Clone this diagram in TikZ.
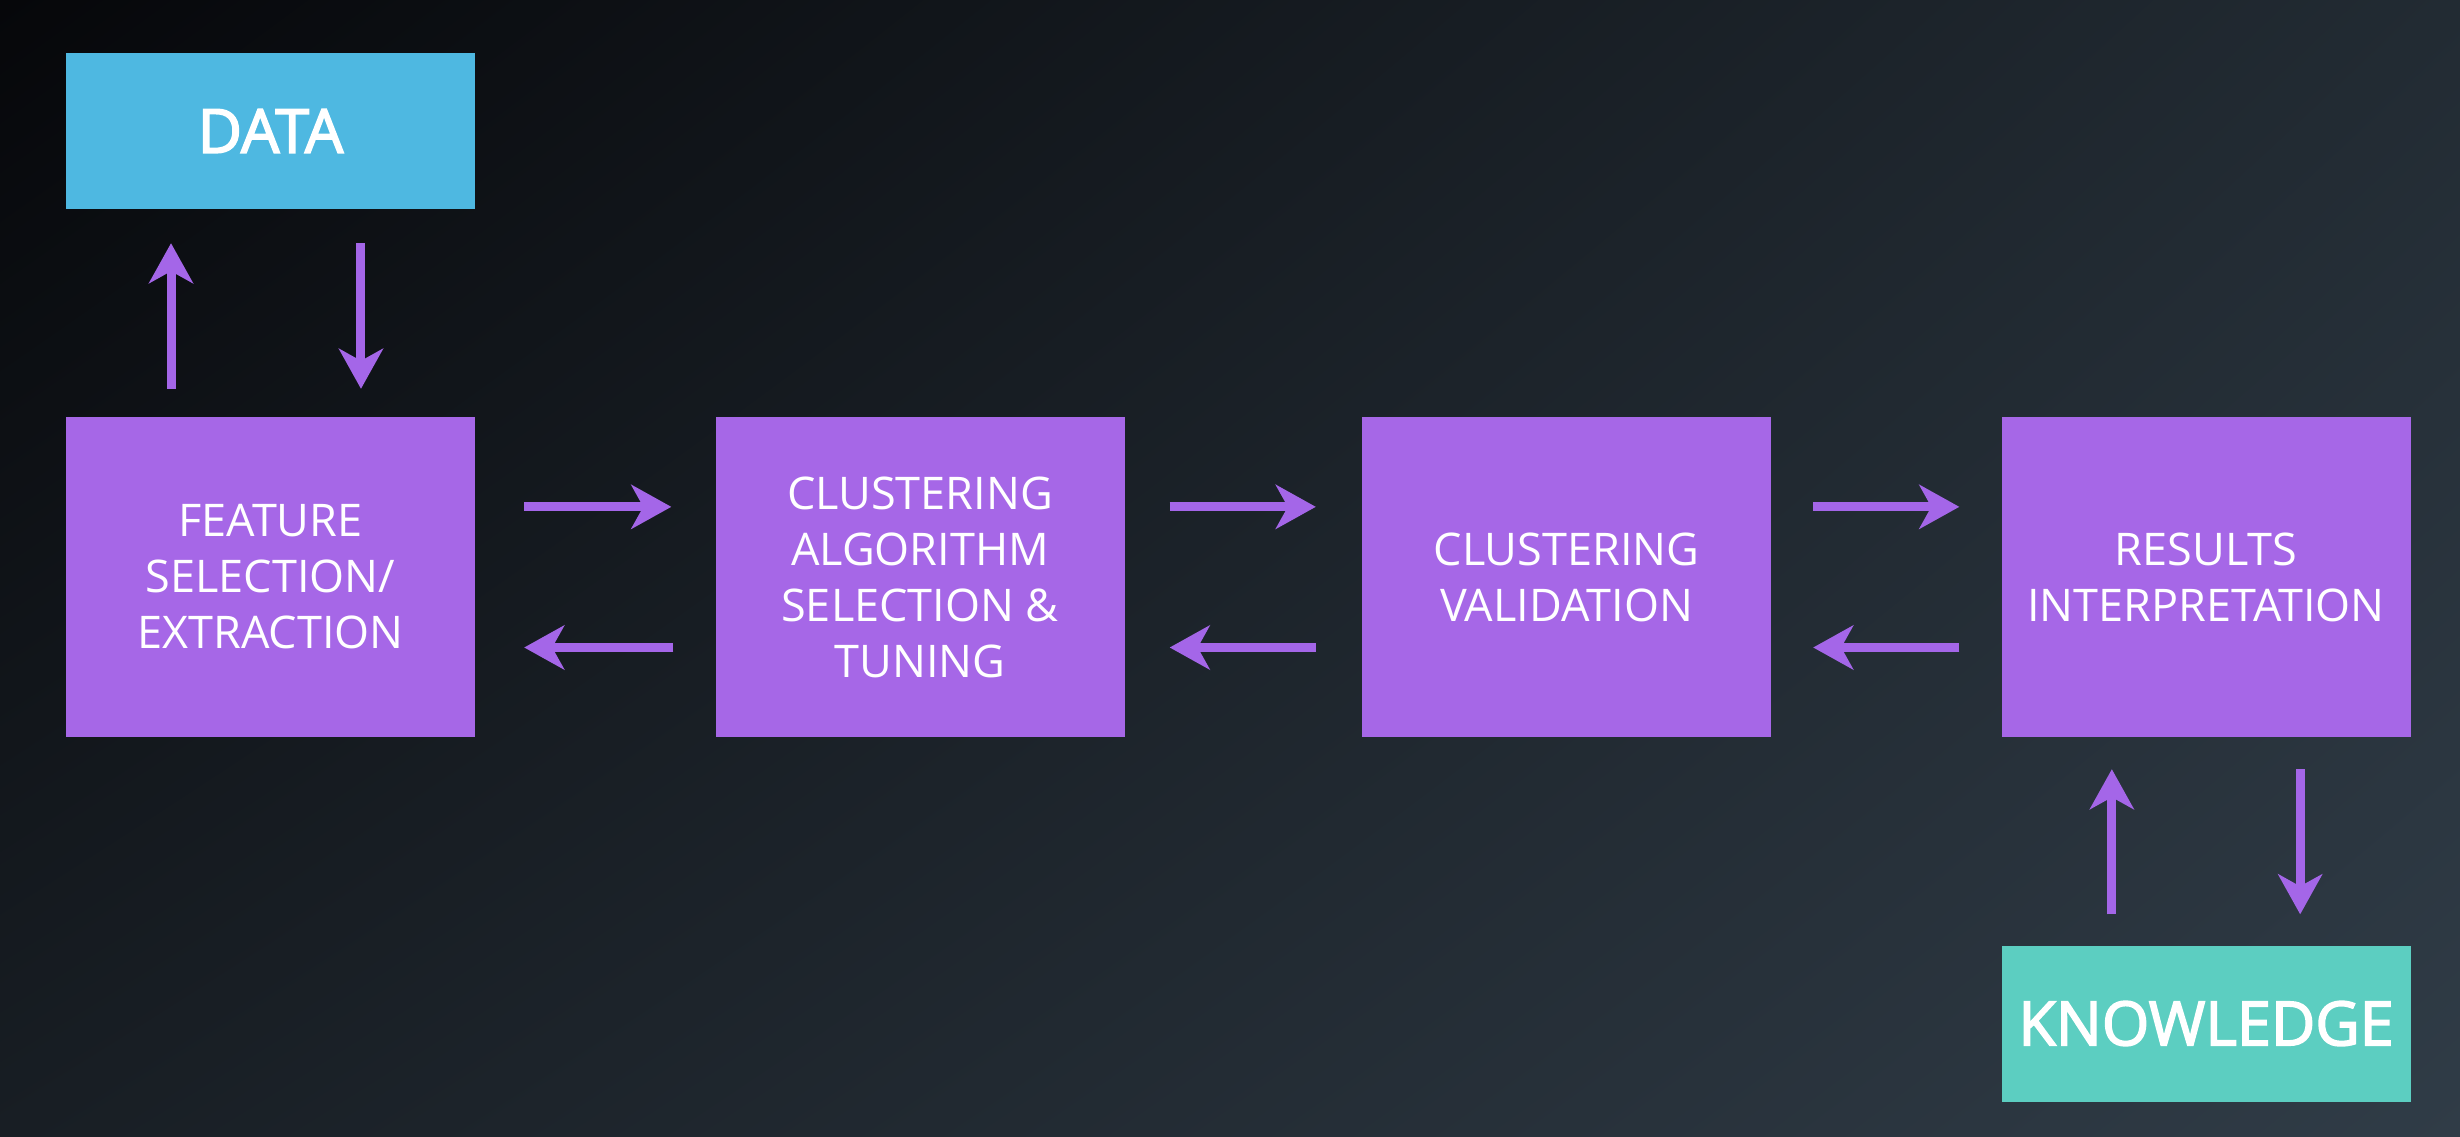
\documentclass[tikz,border=0pt]{standalone}
\usepackage{fontspec}
\setmainfont{Open Sans}
\usetikzlibrary{arrows.meta,calc,shadings}
% slightly heavier label text: fill and stroke the glyphs
\newcommand\heavytext[1]{\special{pdf:literal 2 Tr 1.6 w 1 1 1 RG}#1\special{pdf:literal 0 Tr}}
\definecolor{bgUL}{HTML}{06070A}
\definecolor{bgUR}{HTML}{222B33}
\definecolor{bgLL}{HTML}{181E24}
\definecolor{bgLR}{HTML}{303C47}
\definecolor{stagepurple}{HTML}{A667E7}
\definecolor{flowpurple}{HTML}{A466E8}
\definecolor{datablue}{HTML}{4EB8E1}
\definecolor{knowteal}{HTML}{5CCEC1}
\begin{document}
\begin{tikzpicture}[x=1pt,y=-1pt,
  stage/.style={fill=stagepurple, text=white, minimum width=409pt, minimum height=320pt,
    inner sep=0pt, align=center, font=\fontsize{45}{56}\selectfont},
  endbox/.style={text=white, minimum width=409pt, minimum height=156pt, inner sep=0pt,
    font=\fontsize{61}{70}\selectfont},
  flow/.style={draw=flowpurple, line width=9pt,
    -{Stealth[length=40pt,width=44pt,inset=12pt]}}
]
% background
\shade[upper left=bgUL, upper right=bgUR, lower left=bgLL, lower right=bgLR]
  (0,0) rectangle (2460,1136);
\useasboundingbox (0,0) rectangle (2460,1136);

% boxes
\node[endbox, fill=datablue] (data) at (270.5,131) {\heavytext{DATA}};
\node[stage] (feat)  at (270.5,577) {FEATURE\\SELECTION/\\EXTRACTION};
\node[stage] (algo)  at (920,577)   {CLUSTERING\\ALGORITHM\\SELECTION \&\\TUNING};
\node[stage] (valid) at (1566.5,577){CLUSTERING\\VALIDATION};
\node[stage] (res)   at (2206,577)  {RESULTS\\INTERPRETATION};
\node[endbox, fill=knowteal] (know) at (2206,1023.5) {\heavytext{KNOWLEDGE}};

% helper coordinates for arrow positions
\path (feat.north west) -- (feat.north east)
  coordinate[pos=0.257] (fu) coordinate[pos=0.721] (fd);
\path (res.south west) -- (res.south east)
  coordinate[pos=0.27] (ku) coordinate[pos=0.73] (kd);
\path (feat.north east) -- (feat.south east)
  coordinate[pos=0.281] (hr) coordinate[pos=0.72] (hl);

% data <-> feature
\draw[flow, shorten <=28pt, shorten >=34pt] (fu) -- (fu |- data.south);
\draw[flow, shorten <=34pt, shorten >=28pt] (fd |- data.south) -- (fd);

% forward / backward between stages
\draw[flow, shorten <=49pt, shorten >=44pt] (feat.east |- hr) -- (algo.west |- hr);
\draw[flow, shorten <=42pt, shorten >=49pt] (algo.west |- hl) -- (feat.east |- hl);
\draw[flow, shorten <=45pt, shorten >=46pt] (algo.east |- hr) -- (valid.west |- hr);
\draw[flow, shorten <=46pt, shorten >=45pt] (valid.west |- hl) -- (algo.east |- hl);
\draw[flow, shorten <=42pt, shorten >=42pt] (valid.east |- hr) -- (res.west |- hr);
\draw[flow, shorten <=42pt, shorten >=42pt] (res.west |- hl) -- (valid.east |- hl);

% results <-> knowledge
\draw[flow, shorten <=31pt, shorten >=32pt] (ku |- know.north) -- (ku);
\draw[flow, shorten <=32pt, shorten >=31pt] (kd) -- (kd |- know.north);
\end{tikzpicture}
\end{document}
